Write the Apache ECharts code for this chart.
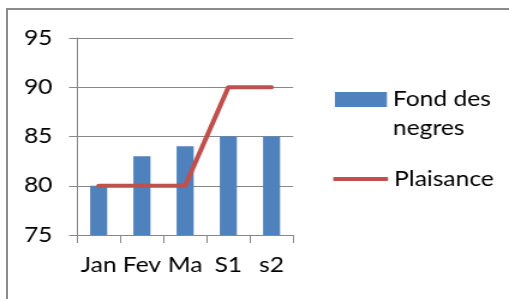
<!DOCTYPE html>
<html>
<head>
<meta charset="utf-8">
<script src="https://cdn.jsdelivr.net/npm/echarts@6/dist/echarts.min.js"></script>
<style>
  html, body { margin: 0; padding: 0; background: #fff; overflow: hidden; }
  #frame {
    position: absolute; left: 6px; top: 8px; right: 0; bottom: 0;
    border-left: 2px solid #8a8a8a; border-top: 2px solid #8a8a8a;
  }
  /* the original picture is stretched sideways, so the chart is drawn narrower and scaled */
  #chart {
    position: absolute; left: 0; top: 0;
    width: 424px; height: 299px;
    transform: scaleX(1.2005); transform-origin: 0 0;
  }
</style>
</head>
<body>
<div id="frame"></div>
<div id="chart"></div>
<script>
// data
const categories = ['Jan', 'Fev', 'Ma', 'S1', 's2']
const fondDesNegres = [80, 83, 84, 85, 85]
const plaisance = [80, 80, 80, 90, 90]
const yMin = 75
const yMax = 95
const yStep = 5

const gray = '#878787'
const font = 'Lato'
const fontSize = 20.5

const chart = echarts.init(document.getElementById('chart'), null, { renderer: 'canvas' })

const option = {
  animation: false,
  textStyle: { fontFamily: font },
  grid: { left: 64.2, right: 179.8, top: 38, bottom: 64 },
  legend: [
    {
      data: [{ name: 'Fond des negres', icon: 'rect' }],
      left: 279,
      top: 56,
      padding: 0,
      itemWidth: 43.3,
      itemHeight: 15,
      // blank first line keeps "Fond des" level with the swatch
      formatter: () => '\u00a0\nFond des\nnegres',
      textStyle: { fontFamily: font, fontSize: fontSize, color: '#000', lineHeight: 29 }
    },
    {
      data: [{ name: 'Plaisance', icon: 'roundRect' }],
      left: 277.5,
      top: 164.5,
      padding: 0,
      itemWidth: 45.8,
      itemHeight: 4,
      textStyle: { fontFamily: font, fontSize: fontSize, color: '#000', lineHeight: 29 }
    }
  ],
  xAxis: {
    type: 'category',
    data: categories,
    boundaryGap: true,
    axisLine: { lineStyle: { color: gray, width: 1 } },
    axisTick: { show: true, interval: 0, length: 8, lineStyle: { color: gray } },
    axisLabel: { interval: 0, fontFamily: font, fontSize: fontSize, color: '#000', margin: 20 }
  },
  yAxis: {
    type: 'value',
    min: yMin,
    max: yMax,
    interval: yStep,
    axisLine: { show: true, lineStyle: { color: gray, width: 1 } },
    axisTick: { show: true, length: 6.7, lineStyle: { color: gray } },
    axisLabel: { fontFamily: font, fontSize: fontSize, color: '#000', margin: 20.5 },
    splitLine: { lineStyle: { color: gray, width: 1 } }
  },
  series: [
    {
      name: 'Fond des negres',
      type: 'bar',
      data: fondDesNegres,
      barWidth: 14.2,
      itemStyle: { color: '#4F81BD' }
    },
    {
      name: 'Plaisance',
      type: 'line',
      data: plaisance,
      symbol: 'none',
      itemStyle: { color: '#C0504D' },
      lineStyle: { color: '#C0504D', width: 4, cap: 'round', join: 'round' }
    }
  ]
}

chart.setOption(option)
</script>
</body>
</html>
